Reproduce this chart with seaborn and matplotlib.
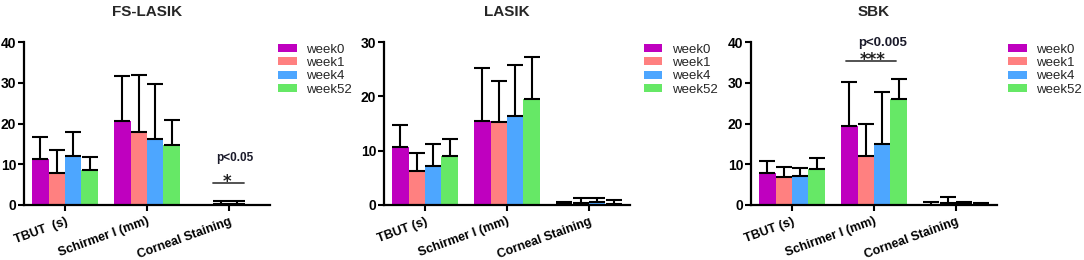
import pandas as pd
import seaborn as sns
import matplotlib.pyplot as plt

# ---- data (mean, upper SD end) ----
weeks = ['week0', 'week1', 'week4', 'week52']
week_colors = ['#BF00BF', '#FF8080', '#4DA6FF', '#66E866']

measures_fs = ['TBUT  (s)', 'Schirmer I (mm)', 'Corneal Staining']
measures = ['TBUT (s)', 'Schirmer I (mm)', 'Corneal Staining']

# rows: TBUT, Schirmer, Corneal staining ; columns: week0, week1, week4, week52
fs_lasik_mean = [[11.2, 7.9, 12.0, 8.7],
                 [20.5, 18.0, 16.3, 14.7],
                 [0.0, 0.3, 0.3, 0.0]]
fs_lasik_sd = [[5.5, 5.5, 5.9, 3.1],
               [11.1, 14.0, 13.4, 6.1],
               [0.0, 0.6, 0.7, 0.0]]

lasik_mean = [[10.7, 6.3, 7.2, 9.0],
              [15.5, 15.3, 16.3, 19.6],
              [0.1, 0.4, 0.5, 0.2]]
lasik_sd = [[4.1, 3.3, 4.1, 3.1],
            [9.8, 7.5, 9.4, 7.6],
            [0.45, 0.95, 0.85, 0.7]]

sbk_mean = [[7.9, 6.9, 7.1, 8.9],
            [19.3, 12.0, 14.9, 25.9],
            [0.05, 0.6, 0.2, 0.3]]
sbk_sd = [[2.9, 2.4, 2.0, 2.6],
          [10.8, 7.9, 12.8, 5.0],
          [0.6, 1.3, 0.6, 0.1]]

panel_titles = ['FS-LASIK', 'LASIK', 'SBK']
panel_ylims = [40, 30, 40]
panel_yticks = [[0, 10, 20, 30, 40], [0, 10, 20, 30], [0, 10, 20, 30, 40]]


def long_table(cats, means, sds):
    rows = []
    for i, cat in enumerate(cats):
        for j, wk in enumerate(weeks):
            rows.append({'measure': cat, 'week': wk, 'mean': means[i][j], 'sd': sds[i][j]})
    return pd.DataFrame(rows)


sns.set_style('ticks')
plt.rcParams['font.family'] = ['Liberation Sans', 'DejaVu Sans']

fig = plt.figure(figsize=(10.84, 2.6), dpi=100)
W, H = 1084.0, 260.0
ax_lefts = [24, 384, 751]     # pixel positions of the y axes
ax_width = 246
ax_bottom, ax_top = 205, 42    # pixel rows of y=0 and y=max
legend_x = [1.033, 1.057, 1.045]

panels = [(measures_fs, fs_lasik_mean, fs_lasik_sd),
          (measures, lasik_mean, lasik_sd),
          (measures, sbk_mean, sbk_sd)]

axes = []
for k, (cats, means, sds) in enumerate(panels):
    ax = fig.add_axes([ax_lefts[k] / W, (H - ax_bottom) / H, ax_width / W, (ax_bottom - ax_top) / H])
    df = long_table(cats, means, sds)
    sns.barplot(data=df, x='measure', y='mean', hue='week', order=cats, hue_order=weeks,
                palette=week_colors, saturation=1, errorbar=None, width=0.8, gap=0,
                linewidth=0, ax=ax)

    # one-sided SD error bars on top of each bar
    for container, wk in zip(ax.containers, weeks):
        for bar, cat in zip(container, cats):
            sd = df[(df.week == wk) & (df.measure == cat)]['sd'].iloc[0]
            if sd <= 0:
                continue
            xc = bar.get_x() + bar.get_width() / 2
            ax.errorbar(xc, bar.get_height(), yerr=[[0], [sd]], fmt='none', ecolor='black',
                        elinewidth=1.5, capsize=5.5, capthick=1.5, zorder=3)

    ax.set_xlim(-0.5, 2.5)
    ax.set_ylim(0, panel_ylims[k])
    ax.set_yticks(panel_yticks[k])
    ax.set_xlabel('')
    ax.set_ylabel('')
    ax.set_title(panel_titles[k], fontsize=11, fontweight='bold', pad=19)
    sns.despine(ax=ax)
    for side in ['left', 'bottom']:
        ax.spines[side].set_linewidth(1.6)
        ax.spines[side].set_color('black')
    ax.tick_params(axis='both', direction='out', length=4, width=1.5, colors='black', labelsize=9)
    ax.tick_params(axis='y', labelsize=10, pad=1.5)
    for lab in ax.get_yticklabels():
        lab.set_fontweight('bold')
    ax.set_xticks(range(len(cats)))
    ax.set_xticklabels(cats, rotation=20, ha='right', rotation_mode='anchor', fontweight='bold')

    sns.move_legend(ax, 'upper left', bbox_to_anchor=(legend_x[k], 0.99), frameon=False, title=None,
                    fontsize=9.5, borderpad=0, borderaxespad=0, handlelength=1.4, handleheight=0.55,
                    handletextpad=0.73, labelspacing=0.1)
    axes.append(ax)

# significance marks
ax = axes[0]
ax.plot([1.8, 2.18], [5.3, 5.3], color='#444444', lw=1.3, clip_on=False)
ax.text(1.98, 4.5, '*', ha='center', va='baseline', fontsize=12, fontweight='bold',
        family='DejaVu Sans', color='#222222')
ax.text(2.07, 11.5, 'p<0.05', ha='center', va='center', fontsize=8.5, fontweight='bold', color='#1a1a2a')

ax = axes[2]
ax.plot([0.66, 1.27], [35.4, 35.4], color='#444444', lw=1.3, clip_on=False)
ax.text(0.98, 34.4, '***', ha='center', va='baseline', fontsize=12, fontweight='bold',
        family='DejaVu Sans', color='#222222', clip_on=False)
ax.text(1.11, 39.8, 'p<0.005', ha='center', va='center', fontsize=9.5, fontweight='bold', color='#1a1a2a',
        clip_on=False)

fig.savefig('out.png', dpi=100)
